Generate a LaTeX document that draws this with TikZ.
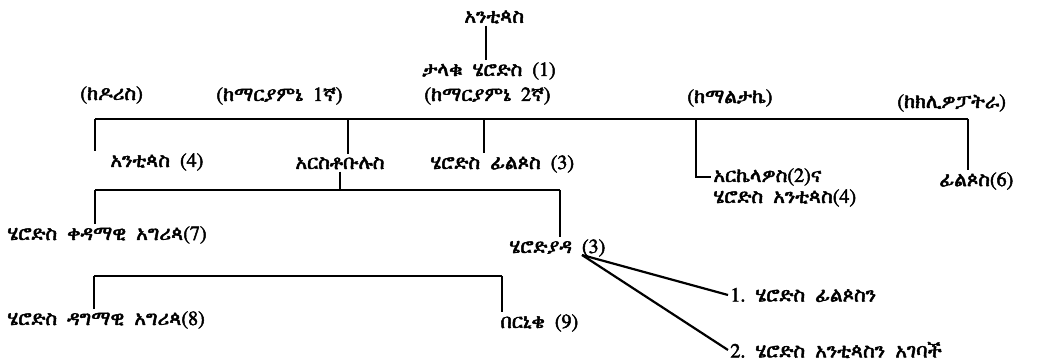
\documentclass[tikz,border=0pt]{standalone}
\usepackage{fontspec}
\IfFontExistsTF{FreeSerif}{\newfontfamily\ethfont{FreeSerif}[FakeBold=2.5]}{\newfontfamily\ethfont{DejaVu Sans}}
\usetikzlibrary{calc,positioning}

\begin{document}
\begin{tikzpicture}[x=0.5pt,y=-0.5pt,
    nm/.style={font=\ethfont\fontsize{10}{12}\selectfont,inner sep=1pt,anchor=west},
    ln/.style={line width=1.1pt}]
  \useasboundingbox (0,0) rectangle (1041,362);
  % Herod and his wives
  \node[nm] (antipas) at (462,17) {አንቲጳስ};
  \node[nm] (herod) at (420,71) {ታላቁ~~ሄሮድስ~~(1)};
  \node[nm] (doris) at (78,95) {(ከዶሪስ)};
  \node[nm] (mariamneI) at (214,96) {(ከማርያምኔ~~1ኛ)};
  \node[nm] (mariamneII) at (422,96) {(ከማርያምኔ~~2ኛ)};
  \node[nm] (malthace) at (685,98) {(ከማልታኬ)};
  \node[nm] (cleopatra) at (895,103) {(ከክሊዎፓትራ)};
  % sons
  \node[nm] (antipater) at (108,162) {አንቲጳስ~~(4)};
  \node[nm] (aristobulus) at (293,163) {አርስቶቡሉስ};
  \node[nm] (philip) at (428,164) {ሄሮድስ~~ፊልጶስ~~(3)};
  \node[nm] (archelaus) at (711,177) {አርኬላዎስ(2)ና};
  \node[nm] (antipasIV) at (711,198) {ሄሮድስ~~አንቲጳስ(4)};
  \node[nm] (philipVI) at (937,181) {ፊልጶስ(6)};
  % grandchildren
  \node[nm] (agrippaI) at (5,235) {ሄሮድስ~~ቀዳማዊ~~አግሪጳ(7)};
  \node[nm] (herodias) at (507,248) {ሄሮድያዳ~~(3)};
  \node[nm] (agrippaII) at (5,320) {ሄሮድስ~~ዳግማዊ~~አግሪጳ(8)};
  \node[nm] (bernice) at (498,323) {በርኒቄ~~(9)};
  \node[nm] (husbI) at (728,295) {1.~~ሄሮድስ~~ፊልጶስን};
  \node[nm] (husbII) at (728,350) {2.~~ሄሮድስ~~አንቲጳስን~~አገባች};

  \coordinate (stem) at ([xshift=12pt]antipas.south west);
  \draw[ln] (stem) -- (stem |- herod.north);
  \coordinate (busL) at (95,119);
  \coordinate (busR) at (968,119);
  \draw[ln] (busL) -- (busR);
  \foreach \n/\x in {antipater/95,aristobulus/348,philip/484,philipVI/968}
    \draw[ln] (\x,119) -- (\x,119 |- \n.north);
  \draw[ln] (696,119) |- (archelaus.west);
  % Aristobulus' children
  \draw[ln] (aristobulus.south) -- (aristobulus.south |- 0,190);
  \draw[ln] (95,190) -- (560,190);
  \draw[ln] (95,190) -- (95,190 |- agrippaI.north);
  \draw[ln] (560,190) -- (560,190 |- herodias.north);
  % Agrippa I's children
  \draw[ln] (94,276) -- (502,276);
  \draw[ln] (94,276) -- (94,276 |- agrippaII.north);
  \draw[ln] (502,276) -- (502,276 |- bernice.north);
  % Herodias
  \coordinate (hook) at (582,255);
  \draw[ln] (hook) -- (husbI.west);
  \draw[ln] (hook) -- (husbII.west);
\end{tikzpicture}
\end{document}
